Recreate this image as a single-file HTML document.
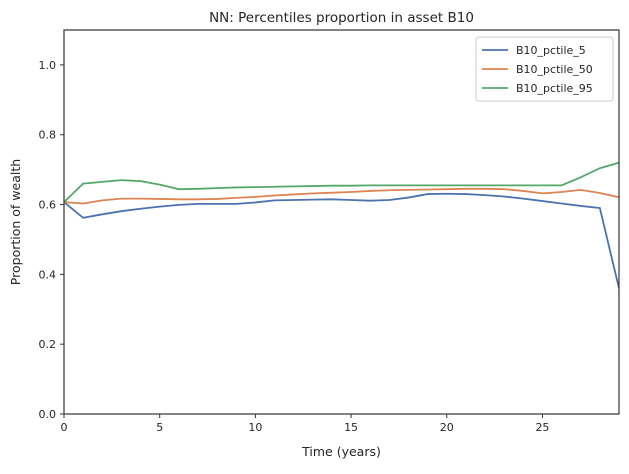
<!DOCTYPE html>
<html><head><meta charset="utf-8"><style>
body{margin:0;background:#fff;font-family:"Liberation Sans","DejaVu Sans",sans-serif;}
svg text{font-family:"DejaVu Sans","Liberation Sans",sans-serif;fill:#262626;}
</style></head><body>
<svg id="c" width="629" height="469" xmlns="http://www.w3.org/2000/svg"></svg>
<script>
const years=[0,1,2,3,4,5,6,7,8,9,10,11,12,13,14,15,16,17,18,19,20,21,22,23,24,25,26,27,28,29];
const p5=[0.607,0.562,0.572,0.581,0.588,0.594,0.599,0.602,0.602,0.602,0.606,0.612,0.613,0.614,0.615,0.613,0.611,0.613,0.620,0.630,0.631,0.630,0.627,0.623,0.617,0.610,0.603,0.596,0.590,0.36];
const p50=[0.607,0.603,0.612,0.617,0.617,0.616,0.615,0.615,0.616,0.619,0.622,0.626,0.629,0.632,0.634,0.636,0.639,0.641,0.642,0.643,0.644,0.645,0.645,0.644,0.639,0.632,0.636,0.642,0.633,0.621];
const p95=[0.607,0.660,0.665,0.670,0.667,0.657,0.644,0.645,0.647,0.649,0.650,0.651,0.652,0.653,0.654,0.654,0.655,0.655,0.655,0.655,0.655,0.655,0.655,0.655,0.655,0.655,0.655,0.678,0.704,0.720];
const xTicks=[0,5,10,15,20,25];
const yTicks=[0.0,0.2,0.4,0.6,0.8,1.0];
const L=64,R=619,T=30,B=414;
const X=v=>L+(R-L)*v/29, Y=v=>B-(B-T)*v/1.1;
const svg=document.getElementById('c');const NS='http://www.w3.org/2000/svg';
function mk(t,a,txt){const e=document.createElementNS(NS,t);for(const k in a)e.setAttribute(k,a[k]);if(txt!=null)e.textContent=txt;svg.appendChild(e);return e;}
let e;
e=mk('rect',{x:L,y:T,width:R-L,height:B-T,fill:'#fff'});


xTicks.forEach(v=>{mk('line',{x1:X(v),x2:X(v),y1:B,y2:B+4,stroke:'#333','stroke-width':1});
e=mk('text',{x:X(v),y:B+17,'text-anchor':'middle','font-size':11},String(v));

});
yTicks.forEach(v=>{mk('line',{x1:L-4,x2:L,y1:Y(v),y2:Y(v),stroke:'#333','stroke-width':1});
e=mk('text',{x:L-8,y:Y(v)+4,'text-anchor':'end','font-size':11},v.toFixed(1));

});
const series=[[p5,'#4c72b0','B10_pctile_5','line-pctile-5'],[p50,'#dd8452','B10_pctile_50','line-pctile-50'],[p95,'#55a868','B10_pctile_95','line-pctile-95']];
const cp=mk('clipPath',{id:'cp'});const r=document.createElementNS(NS,'rect');r.setAttribute('x',L);r.setAttribute('y',T);r.setAttribute('width',R-L);r.setAttribute('height',B-T);cp.appendChild(r);
series.forEach(s=>{e=mk('polyline',{points:years.map((x,i)=>X(x)+','+Y(s[0][i])).join(' '),fill:'none',stroke:s[1],'stroke-width':1.8,'clip-path':'url(#cp)'});

});
e=mk('rect',{x:L,y:T,width:R-L,height:B-T,fill:'none',stroke:'#333','stroke-width':1.2});


e=mk('rect',{x:476,y:37,width:137,height:64,rx:3,fill:'#fff',stroke:'#ccc','stroke-width':1});


series.forEach((s,i)=>{const y=50+i*19;mk('line',{x1:482,x2:508,y1:y,y2:y,stroke:s[1],'stroke-width':1.8});
e=mk('text',{x:516,y:y+4,'font-size':11},s[2]);

});
e=mk('text',{x:(L+R)/2,y:22,'text-anchor':'middle','font-size':13.5},'NN: Percentiles proportion in asset B10');


e=mk('text',{x:(L+R)/2,y:456,'text-anchor':'middle','font-size':12.5},'Time (years)');


e=mk('text',{x:20,y:(T+B)/2,'text-anchor':'middle','font-size':12.5,transform:'rotate(-90 20 '+(T+B)/2+')'},'Proportion of wealth');


</script>
</body></html>
